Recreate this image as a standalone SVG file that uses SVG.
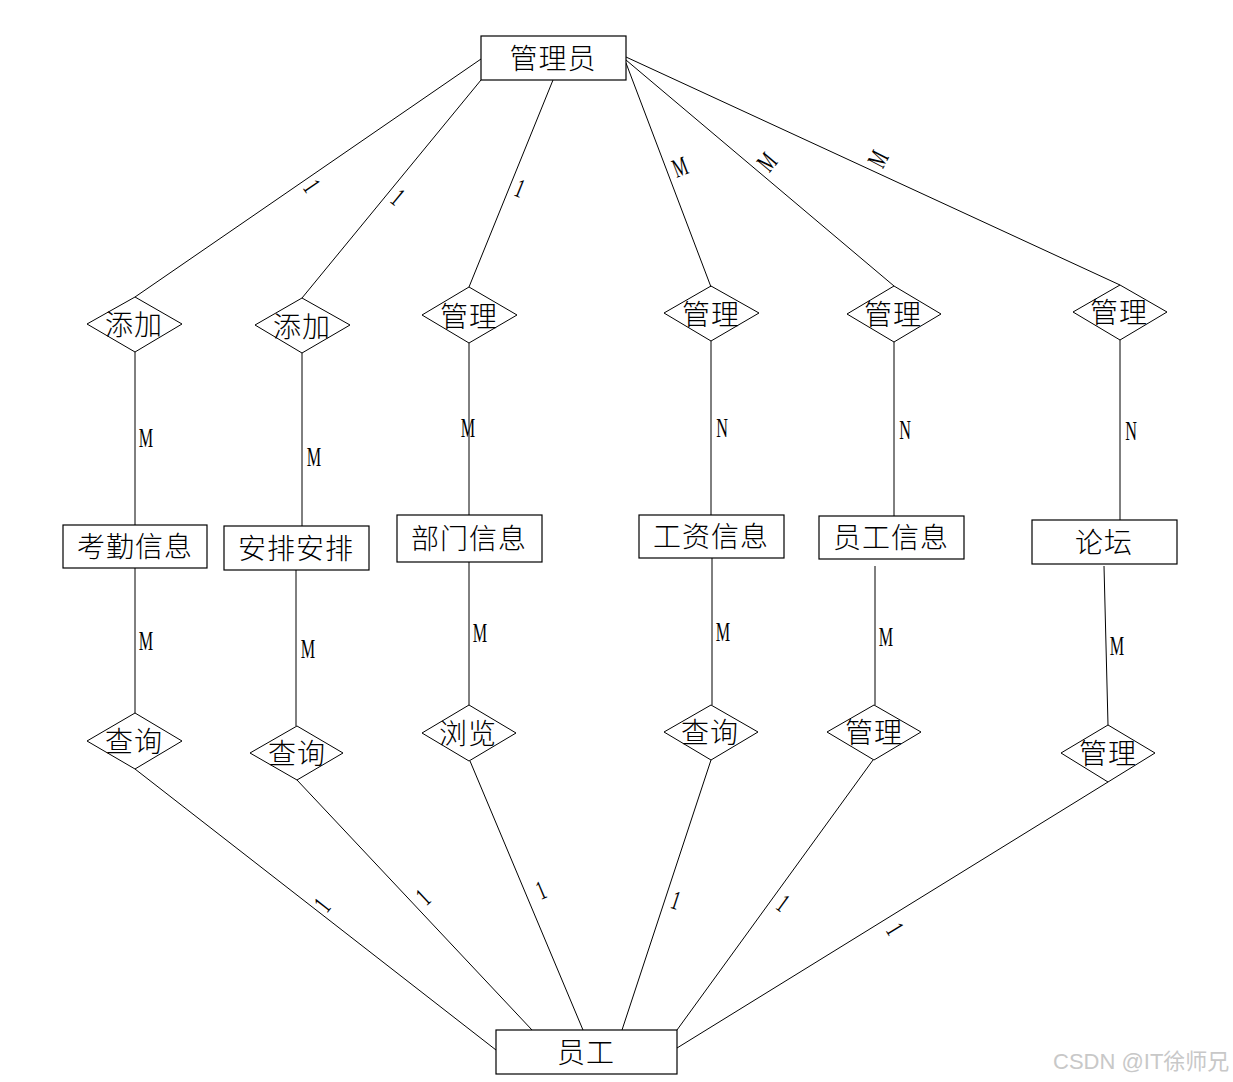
<svg xmlns="http://www.w3.org/2000/svg" width="1233" height="1082" viewBox="0 0 1233 1082">
<style>
.box{fill:#fff;stroke:#000;stroke-width:1.2}
.dia{fill:none;stroke:#000;stroke-width:1}
.t{font-family:"Noto Sans CJK SC","Noto Sans CJK JP",sans-serif;font-size:28px;font-weight:300;fill:#000;text-anchor:middle;dominant-baseline:central;letter-spacing:1px}
.c line{stroke:#000;stroke-width:1}
.l{font-family:"Liberation Serif",serif;font-size:27px;fill:#000;text-anchor:middle;dominant-baseline:central}
.wm{font-family:"Liberation Sans","Noto Sans CJK SC",sans-serif;font-size:22px;fill:#c8c8c8}
</style>
<rect width="1233" height="1082" fill="#fff"/>
<g class="c" id="connectors">
<line x1="481" y1="59" x2="135" y2="297"/>
<line x1="481" y1="80" x2="302" y2="298"/>
<line x1="553" y1="80" x2="469" y2="287"/>
<line x1="626" y1="63" x2="711" y2="287"/>
<line x1="626" y1="60" x2="894" y2="286"/>
<line x1="626" y1="57" x2="1120" y2="285"/>
<line x1="135" y1="352" x2="135" y2="525"/>
<line x1="302" y1="353" x2="302" y2="526"/>
<line x1="469" y1="343" x2="469" y2="515"/>
<line x1="711" y1="341" x2="711" y2="515"/>
<line x1="894" y1="342" x2="894" y2="516"/>
<line x1="1120" y1="340" x2="1120" y2="520"/>
<line x1="135" y1="568" x2="135" y2="713"/>
<line x1="296" y1="570" x2="296" y2="726"/>
<line x1="469" y1="562" x2="469" y2="705"/>
<line x1="712" y1="558" x2="712" y2="705"/>
<line x1="875" y1="566" x2="875" y2="705"/>
<line x1="1104" y1="566" x2="1108" y2="725"/>
<line x1="135" y1="769" x2="496" y2="1050"/>
<line x1="297" y1="780" x2="532" y2="1030"/>
<line x1="470" y1="761" x2="583" y2="1030"/>
<line x1="711" y1="760" x2="622" y2="1030"/>
<line x1="873" y1="760" x2="677" y2="1030"/>
<line x1="1108" y1="782" x2="677" y2="1048"/>
<text class="l" transform="translate(312,186) rotate(55.5) scale(0.6,1)">1</text>
<text class="l" transform="translate(398,197) rotate(39.4) scale(0.6,1)">1</text>
<text class="l" transform="translate(520,188) rotate(22.1) scale(0.6,1)">1</text>
<text class="l" transform="translate(680,167) rotate(-20.7) scale(0.6,1)">M</text>
<text class="l" transform="translate(767,162) rotate(-49.9) scale(0.6,1)">M</text>
<text class="l" transform="translate(878,159) rotate(-62.7) scale(0.6,1)">M</text>
<text class="l" transform="translate(146,438) scale(0.6,1)">M</text>
<text class="l" transform="translate(314,457) scale(0.6,1)">M</text>
<text class="l" transform="translate(468,428) scale(0.6,1)">M</text>
<text class="l" transform="translate(722,428) scale(0.6,1)">N</text>
<text class="l" transform="translate(905,430) scale(0.6,1)">N</text>
<text class="l" transform="translate(1131,431) scale(0.6,1)">N</text>
<text class="l" transform="translate(146,641) scale(0.6,1)">M</text>
<text class="l" transform="translate(308,649) scale(0.6,1)">M</text>
<text class="l" transform="translate(480,633) scale(0.6,1)">M</text>
<text class="l" transform="translate(723,632) scale(0.6,1)">M</text>
<text class="l" transform="translate(886,637) scale(0.6,1)">M</text>
<text class="l" transform="translate(1117,646) scale(0.6,1)">M</text>
<text class="l" transform="translate(322,905) rotate(-52) scale(0.6,1)">1</text>
<text class="l" transform="translate(423,897) rotate(-43) scale(0.6,1)">1</text>
<text class="l" transform="translate(541,890) rotate(-22.8) scale(0.6,1)">1</text>
<text class="l" transform="translate(676,900) rotate(18.2) scale(0.6,1)">1</text>
<text class="l" transform="translate(783,903) rotate(36) scale(0.6,1)">1</text>
<text class="l" transform="translate(895,929) rotate(58.4) scale(0.6,1)">1</text>
</g>
<g id="admin"><rect class="box" x="481" y="36" width="145" height="44"/><text class="t" x="553" y="57">管理员</text></g>
<g id="d1"><polygon class="dia" points="87,324 135,297 182,324 135,352"/><text class="t" x="134" y="323">添加</text></g>
<g id="d2"><polygon class="dia" points="255,325 302,298 350,325 302,353"/><text class="t" x="302" y="325">添加</text></g>
<g id="d3"><polygon class="dia" points="422,315 469,287 517,315 469,343"/><text class="t" x="469" y="315">管理</text></g>
<g id="d4"><polygon class="dia" points="664,313 711,286 759,313 711,341"/><text class="t" x="711" y="313">管理</text></g>
<g id="d5"><polygon class="dia" points="847,314 894,286 941,314 894,342"/><text class="t" x="893" y="313">管理</text></g>
<g id="d6"><polygon class="dia" points="1073,312 1120,285 1167,312 1120,340"/><text class="t" x="1119" y="311">管理</text></g>
<g id="e1"><rect class="box" x="63" y="525" width="144" height="43"/><text class="t" x="135" y="545">考勤信息</text></g>
<g id="e2"><rect class="box" x="224" y="526" width="145" height="44"/><text class="t" x="296" y="547">安排安排</text></g>
<g id="e3"><rect class="box" x="397" y="515" width="145" height="47"/><text class="t" x="469" y="537">部门信息</text></g>
<g id="e4"><rect class="box" x="639" y="515" width="145" height="43"/><text class="t" x="711" y="535">工资信息</text></g>
<g id="e5"><rect class="box" x="819" y="516" width="145" height="43"/><text class="t" x="891" y="536">员工信息</text></g>
<g id="e6"><rect class="box" x="1032" y="520" width="145" height="44"/><text class="t" x="1104" y="541">论坛</text></g>
<g id="q1"><polygon class="dia" points="87,741 135,713 182,741 135,769"/><text class="t" x="134" y="740">查询</text></g>
<g id="q2"><polygon class="dia" points="250,753 297,726 343,753 297,780"/><text class="t" x="297" y="752">查询</text></g>
<g id="q3"><polygon class="dia" points="422,733 469,705 516,733 469,761"/><text class="t" x="468" y="732">浏览</text></g>
<g id="q4"><polygon class="dia" points="664,732 711,705 758,732 711,760"/><text class="t" x="710" y="731">查询</text></g>
<g id="q5"><polygon class="dia" points="827,732 874,705 921,732 874,760"/><text class="t" x="874" y="731">管理</text></g>
<g id="q6"><polygon class="dia" points="1061,753 1108,725 1155,753 1108,782"/><text class="t" x="1108" y="752">管理</text></g>
<g id="emp"><rect class="box" x="496" y="1030" width="181" height="44"/><text class="t" x="586" y="1051">员工</text></g>
<text class="wm" x="1053" y="1069">CSDN @IT徐师兄</text>
</svg>
